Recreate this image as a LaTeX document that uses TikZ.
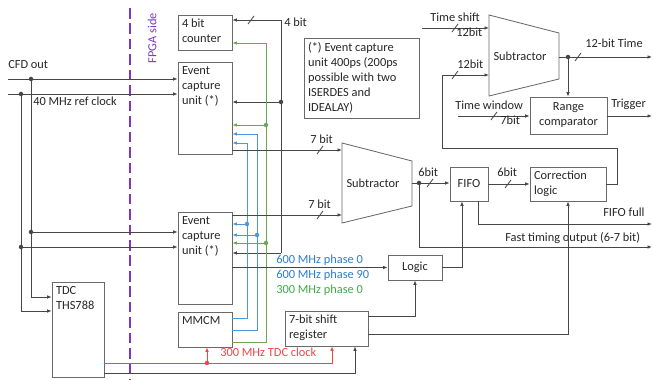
\documentclass[tikz,border=0pt]{standalone}
\usepackage{fontspec}
\setmainfont{Carlito}
\usetikzlibrary{positioning, arrows.meta}

\definecolor{wiregray}{RGB}{70,70,70}
\definecolor{boxgray}{RGB}{105,105,105}
\definecolor{fpgapurple}{RGB}{125,55,200}
\definecolor{clkblue}{RGB}{45,125,205}
\definecolor{wireblue}{RGB}{75,150,220}
\definecolor{clkgreen}{RGB}{65,170,70}
\definecolor{wiregreen}{RGB}{110,165,80}
\definecolor{tdcred}{RGB}{240,70,70}

\tikzset{
  box/.style={draw=boxgray, line width=0.6pt, inner sep=0pt},
  boxtext/.style={anchor=north west, align=left, inner sep=3pt},
  wire/.style={draw=wiregray, line width=0.6pt},
  sig/.style={wire, -{Latex[length=3.2pt, width=2.6pt]}},
  busbar/.pic={\draw[wire] (-3,4) -- (3,-4);},
}

\begin{document}
\begin{tikzpicture}[x=0.025cm, y=-0.025cm,
    every node/.style={font=\fontsize{8.8}{10.7}\selectfont, text=black!85}]
    \useasboundingbox (0,0) rectangle (654,380);
    % FPGA boundary
    \draw[fpgapurple, line width=2pt, dash pattern=on 7.5pt off 3.5pt] (130,8) -- (130,380);
    \node[rotate=90, text=fpgapurple] (fpga) at (152,38) {FPGA side};
    % Counter, capture units and MMCM
    \node[box, minimum width=1.35cm, minimum height=0.875cm] (counter) at (205,32.5) {};
    \node[boxtext] (counter-t) at (counter.north west) {4 bit\\counter};
    \node[box, minimum width=1.35cm, minimum height=2.3cm] (ecuA) at (205,108) {};
    \node[boxtext] (ecuA-t) at (ecuA.north west) {Event\\capture\\unit (*)};
    \node[box, minimum width=1.35cm, minimum height=2.3cm] (ecuB) at (205,258) {};
    \node[boxtext] (ecuB-t) at (ecuB.north west) {Event\\capture\\unit (*)};
    \node[box, minimum width=1.35cm, minimum height=0.875cm] (mmcm) at (205,329.5) {};
    \node[boxtext] (mmcm-t) at (mmcm.north west) {MMCM};
    % TDC chip
    \node[box, minimum width=1.3cm, minimum height=2.375cm] (tdc) at (78,329.5) {};
    \node[boxtext] (tdc-t) at (tdc.north west) {TDC\\THS788};
    % Processing blocks
    \node[box, minimum width=2.075cm, minimum height=0.875cm] (shiftreg) at (326.5,328.5) {};
    \node[boxtext] (shiftreg-t) at (shiftreg.north west) {7-bit shift\\register};
    \node[box, minimum width=1.35cm, minimum height=0.625cm] (logic) at (415,267.5) {Logic};
    \node[box, minimum width=0.95cm, minimum height=0.85cm] (fifo) at (469,184) {FIFO};
    \node[box, minimum width=1.9cm, minimum height=0.85cm] (corr) at (568,184) {};
    \node[boxtext] (corr-t) at (corr.north west) {Correction\\logic};
    \node[box, minimum width=1.925cm, minimum height=0.925cm, align=center] (range) at (568.5,115.5) {Range\\comparator};
    % Note
    \node[box, minimum width=2.875cm, minimum height=2cm] (note) at (361.5,78) {};
    \node[boxtext] (note-t) at (note.north west) {(*) Event capture\\unit 400ps (200ps\\possible with two\\ISERDES and\\IDEALAY)};
    % Subtractors
    \draw[box] (489,15) -- (559,33) -- (559,79) -- (489,96) -- cycle;
    \node (subA) at (520,56) {Subtractor};
    \draw[box] (342,143) -- (412,161) -- (412,206) -- (342,223) -- cycle;
    \node (subB) at (373,183) {Subtractor};
    \coordinate (subAin1) at (489,28);
    \coordinate (subAin2) at (489,75);
    \coordinate (subAout) at (559,57);
    \coordinate (subBin1) at (342,150);
    \coordinate (subBin2) at (342,215);
    \coordinate (subBout) at (412,183);

    % Detector inputs
    \coordinate (cfdL) at (8,79);
    \coordinate (cfdJ) at (31,79);
    \coordinate (cfdB) at (31,232);
    \coordinate (cfdT) at (31,297);
    \coordinate (refL) at (8,94);
    \coordinate (refJ) at (21,94);
    \coordinate (refB) at (21,247);
    \coordinate (refT) at (21,311);
    \draw[sig] (cfdL) -- (cfdL -| ecuA.west);
    \draw[sig] (refL) -- (refL -| ecuA.west);
    \draw[sig] (cfdJ) -- (cfdB) -- (cfdB -| ecuB.west);
    \draw[sig] (cfdB) -- (cfdT) -- (cfdT -| tdc.west);
    \draw[sig] (refJ) -- (refB) -- (refB -| ecuB.west);
    \draw[sig] (refB) -- (refT) -- (refT -| tdc.west);
    \node[anchor=base west, inner sep=0pt] (cfd-l) at (8,69) {CFD out};
    \node[anchor=base west, inner sep=0pt] (ref-l) at (33,106) {40 MHz ref clock};

    % 4 bit counter bus
    \coordinate (cntT) at (281,20);
    \coordinate (cntJ) at (281,102);
    \coordinate (cntB) at (281,253);
    \draw[sig] (cntB) -- (cntT) -- (cntT -| counter.east);
    \draw[sig] (cntJ) -- (cntJ -| ecuA.east);
    \draw[sig] (cntB) -- (cntB -| ecuB.east);
    \pic at (251,20) {busbar};
    \node[anchor=base west, inner sep=0pt] (cnt-l) at (284,27) {4 bit};

    % MMCM clocks
    \coordinate (gT) at (266,43);
    \coordinate (gA) at (266,125);
    \coordinate (gB) at (266,243);
    \coordinate (gM) at (266,342);
    \draw[sig, draw=wiregreen] (gM -| mmcm.east) -| (gT) -- (gT -| counter.east);
    \draw[sig, draw=wiregreen] (gA) -- (gA -| ecuA.east);
    \draw[sig, draw=wiregreen] (gB) -- (gB -| ecuB.east);
    \coordinate (b1T) at (247,143);
    \coordinate (b1B) at (247,224);
    \coordinate (b1M) at (247,318);
    \coordinate (b2T) at (257,134);
    \coordinate (b2B) at (257,235);
    \coordinate (b2M) at (257,330);
    \draw[sig, draw=wireblue] (b1M -| mmcm.east) -| (b1T) -- (b1T -| ecuA.east);
    \draw[sig, draw=wireblue] (b1B) -- (b1B -| ecuB.east);
    \draw[sig, draw=wireblue] (b2M -| mmcm.east) -| (b2T) -- (b2T -| ecuA.east);
    \draw[sig, draw=wireblue] (b2B) -- (b2B -| ecuB.east);
    \node[anchor=base west, inner sep=0pt, text=clkblue] (ph0-l) at (276,264) {600 MHz phase 0};
    \node[anchor=base west, inner sep=0pt, text=clkblue] (ph90-l) at (276,279) {600 MHz phase 90};
    \node[anchor=base west, inner sep=0pt, text=clkgreen] (slow-l) at (276,294) {300 MHz phase 0};

    % Capture units to subtractor
    \draw[sig] (subBin1 -| ecuA.east) -- (subBin1);
    \draw[sig] (subBin2 -| ecuB.east) -- (subBin2);
    \pic at (320,150) {busbar};
    \pic at (320,215) {busbar};
    \node[anchor=base west, inner sep=0pt] (inA-l) at (310,144) {7 bit};
    \node[anchor=base west, inner sep=0pt] (inB-l) at (308,209) {7 bit};

    % Datapath
    \coordinate (dJ) at (419,183);
    \coordinate (fastR) at (652,247);
    \coordinate (ffX) at (478,224);
    \coordinate (ffR) at (652,224);
    \draw[sig] (subBout) -- (subBout -| fifo.west);
    \draw[sig] (fifo.east) -- (corr.west);
    \draw[sig] (dJ) |- (fastR);
    \draw[sig] (ffX |- fifo.south) -- (ffX) -- (ffR);
    \pic at (430,183) {busbar};
    \pic at (508,184) {busbar};
    \node[anchor=base west, inner sep=0pt] (d6-l) at (418,177) {6bit};
    \node[anchor=base west, inner sep=0pt] (f6-l) at (497,177) {6bit};
    \node[anchor=base west, inner sep=0pt] (ff-l) at (603,217) {FIFO full};
    \node[anchor=base west, inner sep=0pt] (fast-l) at (505,242) {Fast timing output (6-7 bit)};

    % Logic and shift register
    \coordinate (lgX) at (462,268);
    \draw[sig] (ecuB.east |- logic.west) -- (logic.west);
    \draw[sig] (logic.east) -| (lgX |- fifo.south);
    \draw[sig] (shiftreg.east |- 0,316) -| (logic.south);
    \draw[sig] (shiftreg.east |- 0,334) -| (corr.south);

    % TDC outputs
    \coordinate (rJ) at (207,363);
    \coordinate (rX) at (332,363);
    \coordinate (gX) at (355,373);
    \draw[sig, draw=tdcred] (tdc.east |- rJ) -- (rX) -- (rX |- shiftreg.south);
    \draw[sig, draw=tdcred] (rJ) -- (rJ |- mmcm.south);
    \draw[sig] (tdc.east |- gX) -- (gX) -- (gX |- shiftreg.south);
    \node[anchor=base west, inner sep=0pt, text=tdcred] (tdcclk-l) at (220,357) {300 MHz TDC clock};

    % Time correction loop
    \coordinate (fbA) at (617,148);
    \coordinate (fbB) at (442,148);
    \coordinate (tsL) at (422,28);
    \coordinate (tJ) at (568,57);
    \coordinate (timeR) at (652,57);
    \coordinate (twL) at (458,116);
    \coordinate (trigR) at (652,116);
    \draw[sig] (corr.east) -| (fbA) -- (fbB) |- (subAin2);
    \draw[sig] (tsL) -- (subAin1);
    \draw[sig] (subAout) -- (timeR);
    \draw[sig] (tJ) -- (tJ |- range.north);
    \draw[sig] (twL) -- (twL -| range.west);
    \draw[sig] (range.east |- trigR) -- (trigR);
    \pic at (455,75) {busbar};
    \pic at (455,28) {busbar};
    \pic at (578,57) {busbar};
    \pic at (494,116) {busbar};
    \node[anchor=base west, inner sep=0pt] (ts-l) at (430,22) {Time shift};
    \node[anchor=base west, inner sep=0pt] (ts12-l) at (456,37) {12bit};
    \node[anchor=base west, inner sep=0pt] (fb12-l) at (457,69) {12bit};
    \node[anchor=base west, inner sep=0pt] (time-l) at (585,48) {12-bit Time};
    \node[anchor=base west, inner sep=0pt] (tw-l) at (455,110) {Time window};
    \node[anchor=base west, inner sep=0pt] (tw7-l) at (500,125) {7bit};
    \node[anchor=base west, inner sep=0pt] (trig-l) at (611,108) {Trigger};

    % Junction dots
    \foreach \j in {cfdJ, refJ, cfdB, refB, cntJ, dJ, tJ}
        \fill[wiregray] (\j) circle (1.6pt);
    \foreach \j in {gA, gB}
        \fill[wiregreen] (\j) circle (1.6pt);
    \foreach \j in {b1B, b2B}
        \fill[wireblue] (\j) circle (1.6pt);
    \fill[tdcred] (rJ) circle (1.6pt);
\end{tikzpicture}
\end{document}
